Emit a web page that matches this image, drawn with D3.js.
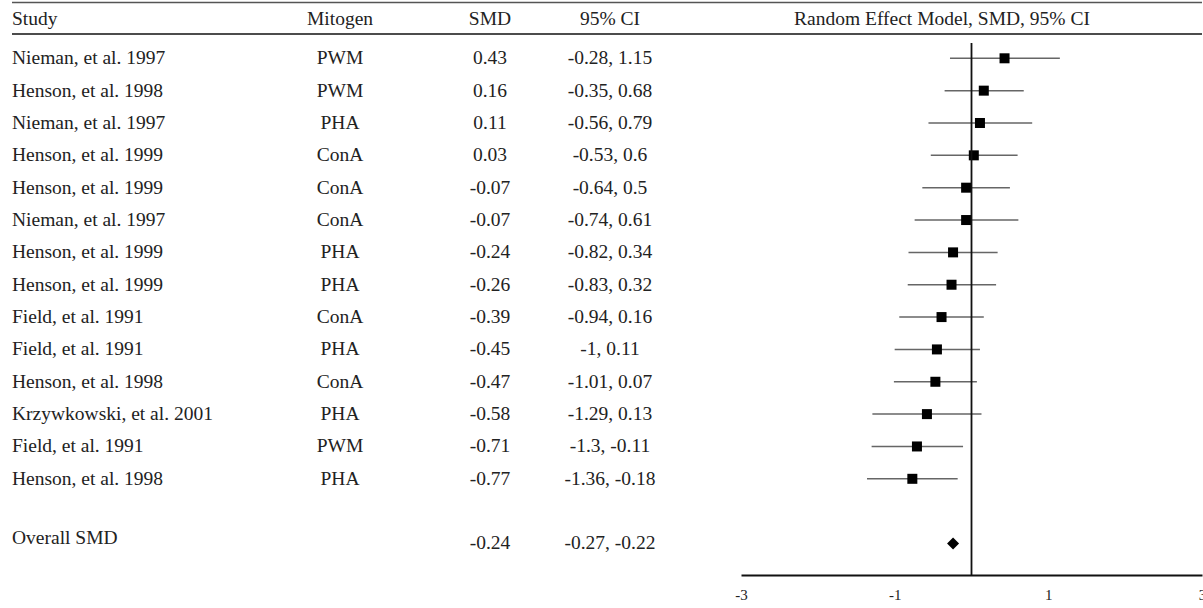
<!DOCTYPE html>
<html>
<head>
<meta charset="utf-8">
<script src="https://cdn.jsdelivr.net/npm/d3@7"></script>
<style>
  body { margin: 0; background: #fff; }
  svg text { font-family: "Liberation Serif", "Times New Roman", serif; font-size: 19.5px; fill: #222; }
</style>
</head>
<body>
<svg id="chart" width="1203" height="608"></svg>
<script>
// data
let studies = ["Nieman, et al. 1997", "Henson, et al. 1998", "Nieman, et al. 1997", "Henson, et al. 1999",
  "Henson, et al. 1999", "Nieman, et al. 1997", "Henson, et al. 1999", "Henson, et al. 1999",
  "Field, et al. 1991", "Field, et al. 1991", "Henson, et al. 1998", "Krzywkowski, et al. 2001",
  "Field, et al. 1991", "Henson, et al. 1998"];
let mitogens = ["PWM", "PWM", "PHA", "ConA", "ConA", "ConA", "PHA", "PHA", "ConA", "PHA", "ConA", "PHA", "PWM", "PHA"];
let smd = [0.43, 0.16, 0.11, 0.03, -0.07, -0.07, -0.24, -0.26, -0.39, -0.45, -0.47, -0.58, -0.71, -0.77];
let ciLow = [-0.28, -0.35, -0.56, -0.53, -0.64, -0.74, -0.82, -0.83, -0.94, -1, -1.01, -1.29, -1.3, -1.36];
let ciHigh = [1.15, 0.68, 0.79, 0.6, 0.5, 0.61, 0.34, 0.32, 0.16, 0.11, 0.07, 0.13, -0.11, -0.18];
let overall = { label: "Overall SMD", smd: -0.24, low: -0.27, high: -0.22 };
let tickValues = [-3, -1, 1, 3];

let svg = d3.select("#chart");

// x scale for the forest part
let x = d3.scaleLinear().domain([-3, 3]).range([741, 1202]);
// row positions (one blank row before overall)
let y = d3.scaleLinear().domain([0, 15]).range([58.3, 543.5]);

// column centres
let colStudy = 12, colMito = 340, colSmd = 490, colCi = 610, colForest = 942;

// header lines
svg.append("line").attr("x1", 12).attr("x2", 1202).attr("y1", 2.5).attr("y2", 2.5)
  .attr("stroke", "#555").attr("stroke-width", 1.5);
svg.append("line").attr("x1", 12).attr("x2", 1202).attr("y1", 34).attr("y2", 34)
  .attr("stroke", "#111").attr("stroke-width", 1.5);

// header
let header = svg.append("g");
header.append("text").attr("x", colStudy).attr("y", 25).text("Study");
header.append("text").attr("x", colMito).attr("y", 25).attr("text-anchor", "middle").text("Mitogen");
header.append("text").attr("x", colSmd).attr("y", 25).attr("text-anchor", "middle").text("SMD");
header.append("text").attr("x", colCi).attr("y", 25).attr("text-anchor", "middle").text("95% CI");
header.append("text").attr("x", colForest).attr("y", 25).attr("text-anchor", "middle").text("Random Effect Model, SMD, 95% CI");

// table rows
let rows = svg.selectAll(".row").data(studies).enter().append("g").attr("class", "row")
  .attr("transform", (d, i) => `translate(0,${y(i)})`);
rows.append("text").attr("x", colStudy).attr("dy", "0.3em").text(d => d);
rows.append("text").attr("x", colMito).attr("dy", "0.3em").attr("text-anchor", "middle").text((d, i) => mitogens[i]);
rows.append("text").attr("x", colSmd).attr("dy", "0.3em").attr("text-anchor", "middle").text((d, i) => smd[i]);
rows.append("text").attr("x", colCi).attr("dy", "0.3em").attr("text-anchor", "middle").text((d, i) => ciLow[i] + ", " + ciHigh[i]);

// whiskers
rows.append("line")
  .attr("x1", (d, i) => x(ciLow[i])).attr("x2", (d, i) => x(ciHigh[i]))
  .attr("stroke", "#666").attr("stroke-width", 1.5);

// zero line
svg.append("line").attr("x1", x(0)).attr("x2", x(0)).attr("y1", 43).attr("y2", 575)
  .attr("stroke", "#111").attr("stroke-width", 1.8);

// squares
rows.append("rect")
  .attr("x", (d, i) => x(smd[i]) - 5).attr("y", -5)
  .attr("width", 10).attr("height", 10).attr("fill", "#000");

// overall row
let ov = svg.append("g").attr("transform", `translate(0,${y(15)})`);
ov.append("text").attr("x", colStudy).attr("dy", "0.05em").text(overall.label);
ov.append("text").attr("x", colSmd).attr("dy", "0.3em").attr("text-anchor", "middle").text(overall.smd);
ov.append("text").attr("x", colCi).attr("dy", "0.3em").attr("text-anchor", "middle").text(overall.low + ", " + overall.high);
ov.append("path")
  .attr("d", d3.symbol(d3.symbolSquare, 72)())
  .attr("transform", `translate(${x(overall.smd)},0) rotate(45)`)
  .attr("fill", "#000");

// axis
let axis = svg.append("g").attr("transform", "translate(0,575)")
  .call(d3.axisBottom(x).tickValues(tickValues).tickSize(0).tickPadding(14).tickFormat(d => String(d)));
axis.select(".domain").attr("stroke", "#111").attr("stroke-width", 1.8);
axis.selectAll("text").style("font-family", "Liberation Serif, serif").style("font-size", "15px").attr("fill", "#222");
</script>
</body>
</html>
